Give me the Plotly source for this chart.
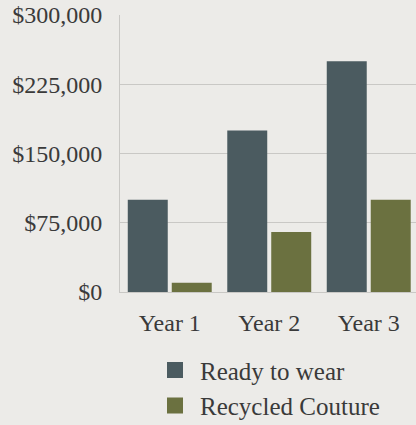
import plotly.graph_objects as go

years = ["Year 1", "Year 2", "Year 3"]
ready_to_wear = [100000, 175000, 250000]
recycled_couture = [10000, 65000, 100000]
series_names = ["Ready to wear", "Recycled Couture"]
colors = ["#4b5b60", "#6b7140"]
y_ticks = [0, 75000, 150000, 225000, 300000]
y_tick_text = ["$0", "$75,000", "$150,000", "$225,000", "$300,000"]

FONT = "Liberation Serif, serif"
TEXT = "#3a3a3a"
BG = "#ecebe8"

fig = go.Figure()
for name, vals, c in zip(series_names, [ready_to_wear, recycled_couture], colors):
    fig.add_trace(go.Bar(x=years, y=vals, name=name, marker=dict(color=c, line=dict(width=0)),
                         showlegend=False, legendgroup=name))
for name, c in zip(series_names, colors):
    fig.add_trace(go.Scatter(x=[None], y=[None], mode="markers", name=name, legendgroup=name,
                             marker=dict(symbol="square", size=16, color=c)))

fig.update_layout(
    width=416, height=425,
    margin=dict(l=120, r=0, t=15, b=133, autoexpand=False),
    paper_bgcolor=BG, plot_bgcolor=BG,
    barmode="group", bargap=0.116, bargroupgap=0.091,
    font=dict(family=FONT, size=24, color=TEXT),
    legend=dict(x=(150 - 120) / 296, y=0.183, xref="paper", yref="container",
                xanchor="left", yanchor="top",
                bgcolor="rgba(0,0,0,0)", font=dict(size=25, color=TEXT),
                tracegroupgap=0, itemwidth=40),
    xaxis=dict(range=[-0.5, 2.475], showgrid=False, showline=True, linecolor="#c9c8c5",
               linewidth=1, ticks="", ticklabelstandoff=9, fixedrange=True),
    yaxis=dict(range=[0, 300000], tickvals=y_ticks, ticktext=y_tick_text,
               showgrid=True, gridcolor="#c9c8c5", gridwidth=1, showline=True,
               linecolor="#c9c8c5", linewidth=1, zeroline=False, ticks="",
               ticklabelstandoff=12),
)
fig.write_html("out.html")
